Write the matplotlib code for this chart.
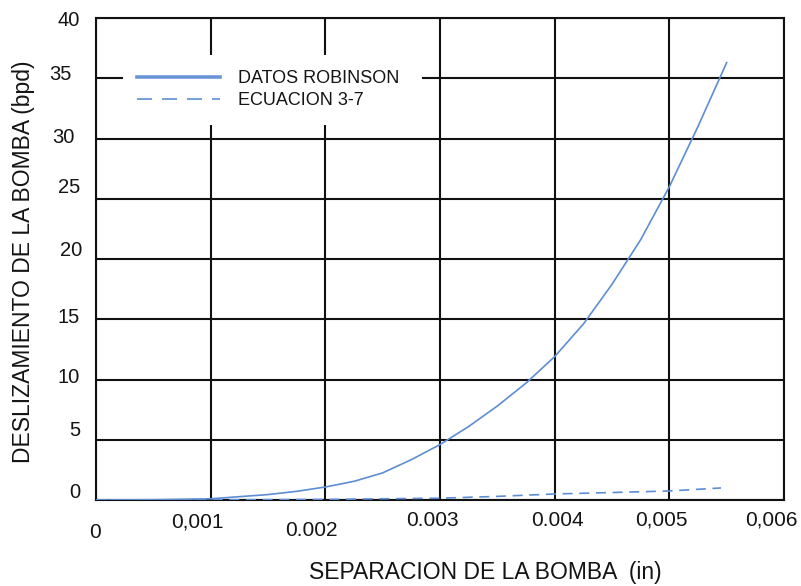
import matplotlib
matplotlib.use('Agg')
import matplotlib.pyplot as plt
from matplotlib.patches import Rectangle

plt.rcParams['font.family'] = ['Liberation Sans', 'DejaVu Sans']

# Pump clearance (in) vs slippage (bpd)
sep_robinson = [0, 0.0005, 0.001, 0.0015, 0.00175, 0.002, 0.00225, 0.0025, 0.00275, 0.003,
                0.00325, 0.0035, 0.00375, 0.004, 0.00425, 0.0045, 0.00475, 0.005,
                0.00525, 0.0055]
slip_robinson = [0, 0.02, 0.1, 0.45, 0.72, 1.08, 1.55, 2.25, 3.35, 4.6,
                 6.1, 7.8, 9.7, 11.9, 14.6, 17.9, 21.6, 26.0,
                 31.0, 36.3]

sep_ecuacion = [0, 0.001, 0.002, 0.003, 0.0035, 0.004, 0.0045, 0.005, 0.00545]
slip_ecuacion = [0, 0.01, 0.05, 0.15, 0.3, 0.5, 0.62, 0.75, 1.0]

x_ticks = [0, 0.001, 0.002, 0.003, 0.004, 0.005, 0.006]
x_tick_labels = ['0', '0,001', '0.002', '0.003', '0.004', '0,005', '0,006']
y_ticks = [0, 5, 10, 15, 20, 25, 30, 35, 40]
y_tick_labels = ['0', '5', '10', '15', '20', '25', '30', '35', '40']

# label nudges in pixels (dx, dy)
x_label_offsets = [(-1, -32), (-13, -22), (-14, -30), (-8, -20), (3, -20), (-8, -20), (-13, -20)]
y_label_offsets = [(-16, 7), (-16, 9), (-16, 2), (-16, 2), (-14, 9), (-16, 11), (-21, 1), (-24, 4), (-16, -2)]

line_color = '#5d8dd3'
text_color = '#141414'

fig = plt.figure(figsize=(8.01, 5.86), dpi=100)
ax = fig.add_axes([96 / 801, 1 - 500 / 586, 688 / 801, 482 / 586])

ax.plot(sep_robinson, slip_robinson, color=line_color, lw=1.2, label='DATOS ROBINSON',
        zorder=3, solid_joinstyle='round')
ax.plot(sep_ecuacion, slip_ecuacion, color=line_color, lw=1.2, dashes=(6, 4),
        label='ECUACION 3-7', zorder=3)

ax.set_xlim(0, 0.006)
ax.set_ylim(0, 40)
ax.set_xticks(x_ticks)
ax.set_yticks(y_ticks)
ax.tick_params(length=0, labelbottom=False, labelleft=False)
ax.set_axisbelow(True)
ax.grid(True, color='#111111', lw=1.5)
for sp in ax.spines.values():
    sp.set_color('#111111')
    sp.set_linewidth(1.5)

# tick labels drawn by hand so each can sit where it should
for val, lab, (dx, dy) in zip(x_ticks, x_tick_labels, x_label_offsets):
    ax.annotate(lab, xy=(val, 0), xycoords=('data', 'axes fraction'),
                xytext=(dx, dy), textcoords='offset pixels',
                ha='center', va='center', fontsize=15, color=text_color,
                annotation_clip=False)
for val, lab, (dx, dy) in zip(y_ticks, y_tick_labels, y_label_offsets):
    ax.annotate(lab, xy=(0, val), xycoords=('axes fraction', 'data'),
                xytext=(dx, dy), textcoords='offset pixels',
                ha='right', va='center', fontsize=14.5, color=text_color,
                annotation_clip=False)

# white block behind the legend
ax.add_patch(Rectangle((27 / 688, (500 - 125) / 482), (422 - 123) / 688, 70 / 482,
                       transform=ax.transAxes, facecolor='white', edgecolor='none', zorder=2))

leg = ax.legend(loc='upper left', bbox_to_anchor=(41 / 688, (500 - 70) / 482),
                frameon=False, fontsize=13, handlelength=4.6, handletextpad=1.0,
                borderpad=0, borderaxespad=0, labelspacing=0.3)
for t in leg.get_texts():
    t.set_color(text_color)
leg.get_lines()[0].set_linewidth(2.6)
leg.get_lines()[0].set_color('#6a96d8')
leg.get_lines()[1].set_linewidth(1.2)
leg.get_lines()[1].set_dashes((9, 6))
leg.set_zorder(4)

fig.text(485 / 801, 1 - 572 / 586, 'SEPARACION DE LA BOMBA  (in)', ha='center', va='center',
         fontsize=16.5, color=text_color)
fig.text(24 / 801, 1 - 262 / 586, 'DESLIZAMIENTO DE LA BOMBA (bpd)', ha='center', va='center',
         rotation=90, fontsize=16.5, color=text_color)

fig.savefig('out.png', dpi=100)
